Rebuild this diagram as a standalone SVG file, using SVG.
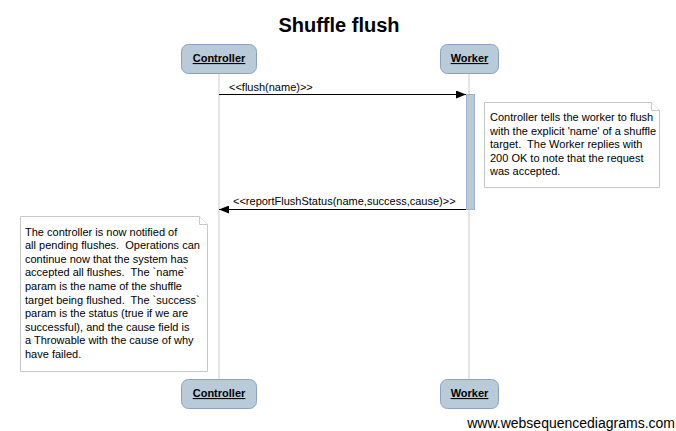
<svg xmlns="http://www.w3.org/2000/svg" width="676" height="431" viewBox="0 0 676 431">
<style>
.bg{fill:#ffffff}
.actor rect{fill:#b9cad9;stroke:#8aa2c2;stroke-width:1}
.actor text{font-family:"Liberation Sans",Arial,sans-serif;font-size:11px;font-weight:bold;text-decoration:underline;text-anchor:middle;fill:#000}
.life{stroke:#cccccc;stroke-width:1;fill:none}
.act{fill:#b9cad9;stroke:#9fb3c8;stroke-width:1}
.msg{stroke:#000;stroke-width:1;fill:none}
.lbl{font-family:"Liberation Sans",Arial,sans-serif;font-size:11px;fill:#000}
.note path{fill:#ffffff;stroke:#c8c8c8;stroke-width:1}
.note text{font-family:"Liberation Sans",Arial,sans-serif;font-size:11px;fill:#000;white-space:pre}
.title{font-family:"Liberation Sans",Arial,sans-serif;font-size:20px;font-weight:bold;text-anchor:middle;fill:#000}
.wm{font-family:"Liberation Sans",Arial,sans-serif;font-size:14px;text-anchor:end;fill:#000}
</style>
<defs>
<marker id="ah" markerWidth="10" markerHeight="8" refX="10" refY="4" orient="auto" markerUnits="userSpaceOnUse">
<path d="M0,0 L10,4 L0,8 Z" fill="#000"/>
</marker>
</defs>
<rect class="bg" x="0" y="0" width="676" height="431"/>
<text class="title" x="339" y="32">Shuffle flush</text>
<g id="lifelines">
<line class="life" x1="219" y1="73" x2="219" y2="379"/>
<line class="life" x1="469" y1="73" x2="469" y2="379"/>
</g>
<g id="controller" class="actor">
<rect x="181.5" y="44.5" width="75" height="29" rx="7" ry="7"/>
<text x="219" y="62">Controller</text>
</g>
<g id="worker" class="actor">
<rect x="440.5" y="44.5" width="58" height="29" rx="7" ry="7"/>
<text x="469.5" y="62">Worker</text>
</g>
<g id="controller-bottom" class="actor">
<rect x="181.5" y="379.5" width="75" height="29" rx="7" ry="7"/>
<text x="219" y="397">Controller</text>
</g>
<g id="worker-bottom" class="actor">
<rect x="440.5" y="379.5" width="58" height="29" rx="7" ry="7"/>
<text x="469.5" y="397">Worker</text>
</g>
<g id="activation">
<rect class="act" x="466.5" y="94.5" width="8" height="115"/>
</g>
<g id="connectors">
<line class="msg" x1="219" y1="94.5" x2="466" y2="94.5" marker-end="url(#ah)"/>
<text class="lbl" x="229" y="91">&lt;&lt;flush(name)&gt;&gt;</text>
<line class="msg" x1="466" y1="209.5" x2="219" y2="209.5" marker-end="url(#ah)"/>
<text class="lbl" x="233" y="205">&lt;&lt;reportFlushStatus(name,success,cause)&gt;&gt;</text>
</g>
<g id="note1" class="note">
<path d="M484.5,102.5 H651.5 L659.5,110.5 V187.5 H484.5 Z"/>
<path d="M651.5,102.5 V110.5 H659.5" fill="none"/>
<text x="490" y="121">Controller tells the worker to flush</text>
<text x="490" y="134.5">with the explicit 'name' of a shuffle</text>
<text x="490" y="148">target.  The Worker replies with</text>
<text x="490" y="161.5">200 OK to note that the request</text>
<text x="490" y="175">was accepted.</text>
</g>
<g id="note2" class="note">
<path d="M20.5,216.5 H199.5 L207.5,224.5 V371.5 H20.5 Z"/>
<path d="M199.5,216.5 V224.5 H207.5" fill="none"/>
<text x="25" y="235.5">The controller is now notified of</text>
<text x="25" y="249.1">all pending flushes.  Operations can</text>
<text x="25" y="262.7">continue now that the system has</text>
<text x="25" y="276.3">accepted all flushes.  The `name`</text>
<text x="25" y="289.9">param is the name of the shuffle</text>
<text x="25" y="303.5">target being flushed.  The `success`</text>
<text x="25" y="317.1">param is the status (true if we are</text>
<text x="25" y="330.7">successful), and the cause field is</text>
<text x="25" y="344.3">a Throwable with the cause of why</text>
<text x="25" y="357.9">have failed.</text>
</g>
<text class="wm" x="675" y="428">www.websequencediagrams.com</text>
</svg>
